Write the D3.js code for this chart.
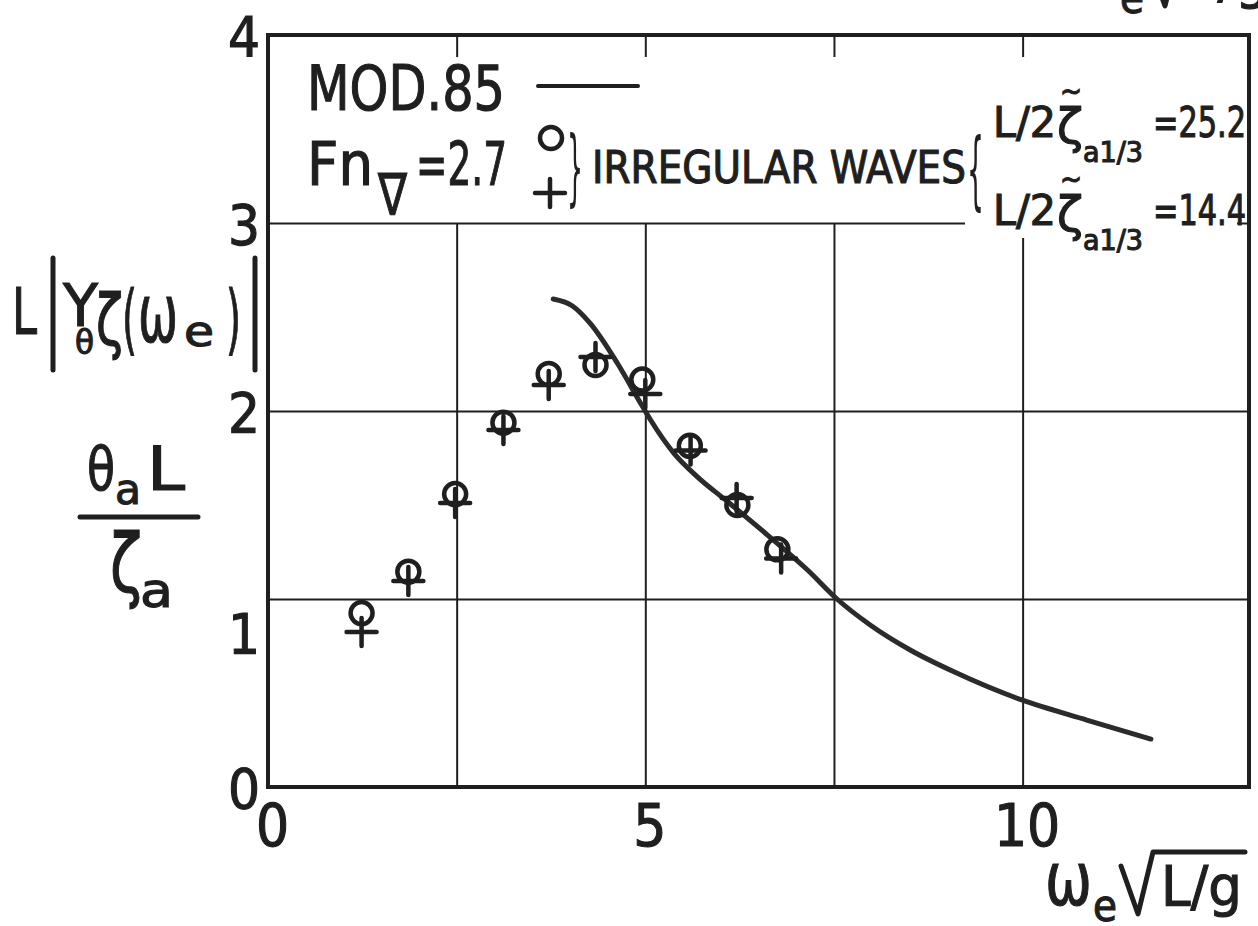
<!DOCTYPE html>
<html>
<head>
<meta charset="utf-8">
<script src="https://cdn.jsdelivr.net/npm/d3@7"></script>
<style>
  html, body { margin: 0; padding: 0; background: #fff; }
  svg text { font-family: 'Liberation Sans Narrow', 'DejaVu Sans Condensed', sans-serif; fill: #1f1f1f; stroke: #1f1f1f; stroke-width: 1.1; }
</style>
</head>
<body>
<div id="chart"></div>
<script>
// values (x = omega_e*sqrt(L/g))
const circleX = [1.24, 1.86, 2.48, 3.12, 3.72, 4.34, 4.96, 5.59, 6.22, 6.75];
const circleY = [0.925, 1.145, 1.558, 1.938, 2.197, 2.245, 2.167, 1.815, 1.50, 1.264];
const crossX = [1.24, 1.86, 2.48, 3.12, 3.72, 4.34, 5.00, 5.60, 6.21, 6.80];
const crossY = [0.824, 1.096, 1.51, 1.899, 2.138, 2.287, 2.09, 1.79, 1.537, 1.215];

// MOD.85 computed curve
const curveX = [3.78, 4.03, 4.27, 4.63, 4.94, 5.07, 5.38, 5.69, 6.09, 6.62, 7.15, 7.54, 7.98, 8.51, 9.09, 9.99, 10.85, 11.70];
const curveY = [2.596, 2.56, 2.466, 2.254, 2.04, 1.952, 1.775, 1.65, 1.518, 1.34, 1.154, 1.0, 0.862, 0.729, 0.613, 0.463, 0.356, 0.255];

const xTicks = [0, 5, 10];
const yTicks = [0, 1, 2, 3, 4];
const xGrid = [2.5, 5, 7.5, 10];
const yGrid = [1, 2, 3];
const waveHeights = ['25.2', '14.4'];

const W = 1258, H = 926;
const ink = '#1f1f1f';

const svg = d3.select('#chart').append('svg').attr('width', W).attr('height', H);

const x = d3.scaleLinear().domain([0, 13]).range([268, 1249]);
const y = d3.scaleLinear().domain([0, 4]).range([787, 35]);

// grid
svg.append('g')
    .attr('transform', `translate(0,${y(0)})`)
    .call(d3.axisBottom(x).tickValues(xGrid).tickSize(-(y(0) - y(3))).tickFormat(''))
    .call(g => g.select('.domain').remove())
    .selectAll('line').attr('stroke', ink).attr('stroke-width', 2);

svg.append('g')
    .attr('transform', `translate(${x(0)},0)`)
    .call(d3.axisLeft(y).tickValues(yGrid).tickSize(-(x(13) - x(0))).tickFormat(''))
    .call(g => g.select('.domain').remove())
    .selectAll('line').attr('stroke', ink).attr('stroke-width', 2);

// short ticks hanging from the top edge
svg.append('g')
    .attr('transform', `translate(0,${y(4)})`)
    .call(d3.axisTop(x).tickValues(xGrid).tickSize(-22).tickFormat(''))
    .call(g => g.select('.domain').remove())
    .selectAll('line').attr('stroke', ink).attr('stroke-width', 2);

// white patch behind the wave-height legend
svg.append('rect').attr('x', 965).attr('y', 88).attr('width', 272).attr('height', 150).attr('fill', '#fff');

// frame
svg.append('rect')
    .attr('x', x(0)).attr('y', y(4))
    .attr('width', x(13) - x(0)).attr('height', y(0) - y(4))
    .attr('fill', 'none').attr('stroke', ink).attr('stroke-width', 4);

// tick labels
svg.append('g')
    .attr('transform', `translate(0,${y(0)})`)
    .call(d3.axisBottom(x).tickValues(xTicks).tickSize(0).tickPadding(0).tickFormat(d3.format('d')))
    .call(g => g.select('.domain').remove())
    .selectAll('text')
    .attr('y', 59).attr('dy', 0)
    .attr('dx', 4)
    .style('font-size', '58px');

svg.append('g')
    .attr('transform', `translate(${x(0)},0)`)
    .call(d3.axisLeft(y).tickValues(yTicks).tickSize(0).tickPadding(8).tickFormat(d3.format('d')))
    .call(g => g.select('.domain').remove())
    .selectAll('text')
    .attr('dy', d => d === 1 ? '0.95em' : '0.36em')
    .style('font-size', '56px');

svg.selectAll('.tick text').attr('fill', ink);

// curve
const line = d3.line().x(d => x(d[0])).y(d => y(d[1])).curve(d3.curveMonotoneX);
svg.append('path')
    .datum(d3.zip(curveX, curveY))
    .attr('d', line)
    .attr('fill', 'none').attr('stroke', '#2b2b2b').attr('stroke-width', 5).attr('stroke-linecap', 'round');

// markers
svg.append('g').selectAll('circle')
    .data(d3.zip(circleX, circleY))
    .join('circle')
    .attr('cx', d => x(d[0])).attr('cy', d => y(d[1])).attr('r', 11)
    .attr('fill', 'none').attr('stroke', ink).attr('stroke-width', 4.5);

const crossPath = 'M-15,0H15M0,-14V14';
svg.append('g').selectAll('path')
    .data(d3.zip(crossX, crossY))
    .join('path')
    .attr('transform', d => `translate(${x(d[0])},${y(d[1])})`)
    .attr('d', crossPath)
    .attr('stroke', ink).attr('stroke-width', 4.5).attr('stroke-linecap', 'round');

// legend
const txt = (px, py, size, s, len) => {
    const t = svg.append('text').attr('x', px).attr('y', py).style('font-size', size + 'px').text(s);
    if (len) t.attr('textLength', len).attr('lengthAdjust', 'spacingAndGlyphs');
    return t;
};

txt(307, 110, 62, 'MOD.85', 198);
svg.append('line').attr('x1', 538).attr('x2', 638).attr('y1', 86).attr('y2', 86).attr('stroke', ink).attr('stroke-width', 4).attr('stroke-linecap', 'round');

txt(307, 185, 60, 'Fn', 66);
txt(378, 215, 58, '∇', 29).style('font-family', 'DejaVu Sans');
txt(416, 185, 60, '=2.7', 91);

svg.append('circle').attr('cx', 551).attr('cy', 138).attr('r', 11).attr('fill', 'none').attr('stroke', ink).attr('stroke-width', 4.5);
svg.append('path').attr('transform', 'translate(550,193)').attr('d', crossPath).attr('stroke', ink).attr('stroke-width', 4.5).attr('stroke-linecap', 'round');
txt(567, 196, 84, '}', 16).style('stroke-width', 0);
txt(592, 183, 44, 'IRREGULAR WAVES', 374);
txt(967, 199, 86, '{', 17).style('stroke-width', 0);

waveHeights.forEach((v, i) => {
    const base = 137 + i * 88;
    txt(993, base, 42, 'L/2', 63);
    txt(1057, base + 6, 48, 'ζ', 26);
    txt(1060, base - 36, 30, '~', 22);
    txt(1083, base + 25, 28, 'a1/3', 60);
    txt(1153, base, 42, '=' + v, 93);
});

// y axis title
const bar = (x1, y1, x2, y2) => svg.append('line').attr('x1', x1).attr('x2', x2).attr('y1', y1).attr('y2', y2)
    .attr('stroke', ink).attr('stroke-width', 5).attr('stroke-linecap', 'round');

txt(12, 334, 64, 'L', 25);
bar(53, 258, 53, 370);
bar(255, 258, 255, 370);
txt(63, 326, 58, 'Y', 35);
txt(75, 354, 34, 'θ', 19);
txt(96, 345, 72, 'ζ', 27);
txt(122, 345, 76, '(', 15);
txt(138, 342, 82, 'ω', 40);
txt(184, 346, 42, 'e', 30);
txt(226, 345, 76, ')', 15);

txt(87, 490, 60, 'θ', 28);
txt(115, 504, 42, 'a', 26);
txt(147, 490, 60, 'L', 38);
bar(80, 517, 198, 517);
txt(110, 592, 82, 'ζ', 32);
txt(140, 607, 48, 'a', 33);

// x axis title
function xTitle(g) {
    g.append('text').attr('x', 1045).attr('y', 905).style('font-size', '74px')
        .attr('textLength', 47).attr('lengthAdjust', 'spacingAndGlyphs').text('ω');
    g.append('text').attr('x', 1093).attr('y', 921).style('font-size', '44px')
        .attr('textLength', 24).attr('lengthAdjust', 'spacingAndGlyphs').text('e');
    g.append('path').attr('d', 'M1121,866L1138,914L1153,852H1245')
        .attr('fill', 'none').attr('stroke', ink).attr('stroke-width', 5).attr('stroke-linejoin', 'round').attr('stroke-linecap', 'round');
    g.append('text').attr('x', 1161).attr('y', 905).style('font-size', '56px')
        .attr('textLength', 81).attr('lengthAdjust', 'spacingAndGlyphs').text('L/g');
}
xTitle(svg.append('g'));
// fragment of the neighbouring figure's label, cut off by the scan
xTitle(svg.append('g').attr('transform', 'translate(27,-908)'));
</script>
</body>
</html>
